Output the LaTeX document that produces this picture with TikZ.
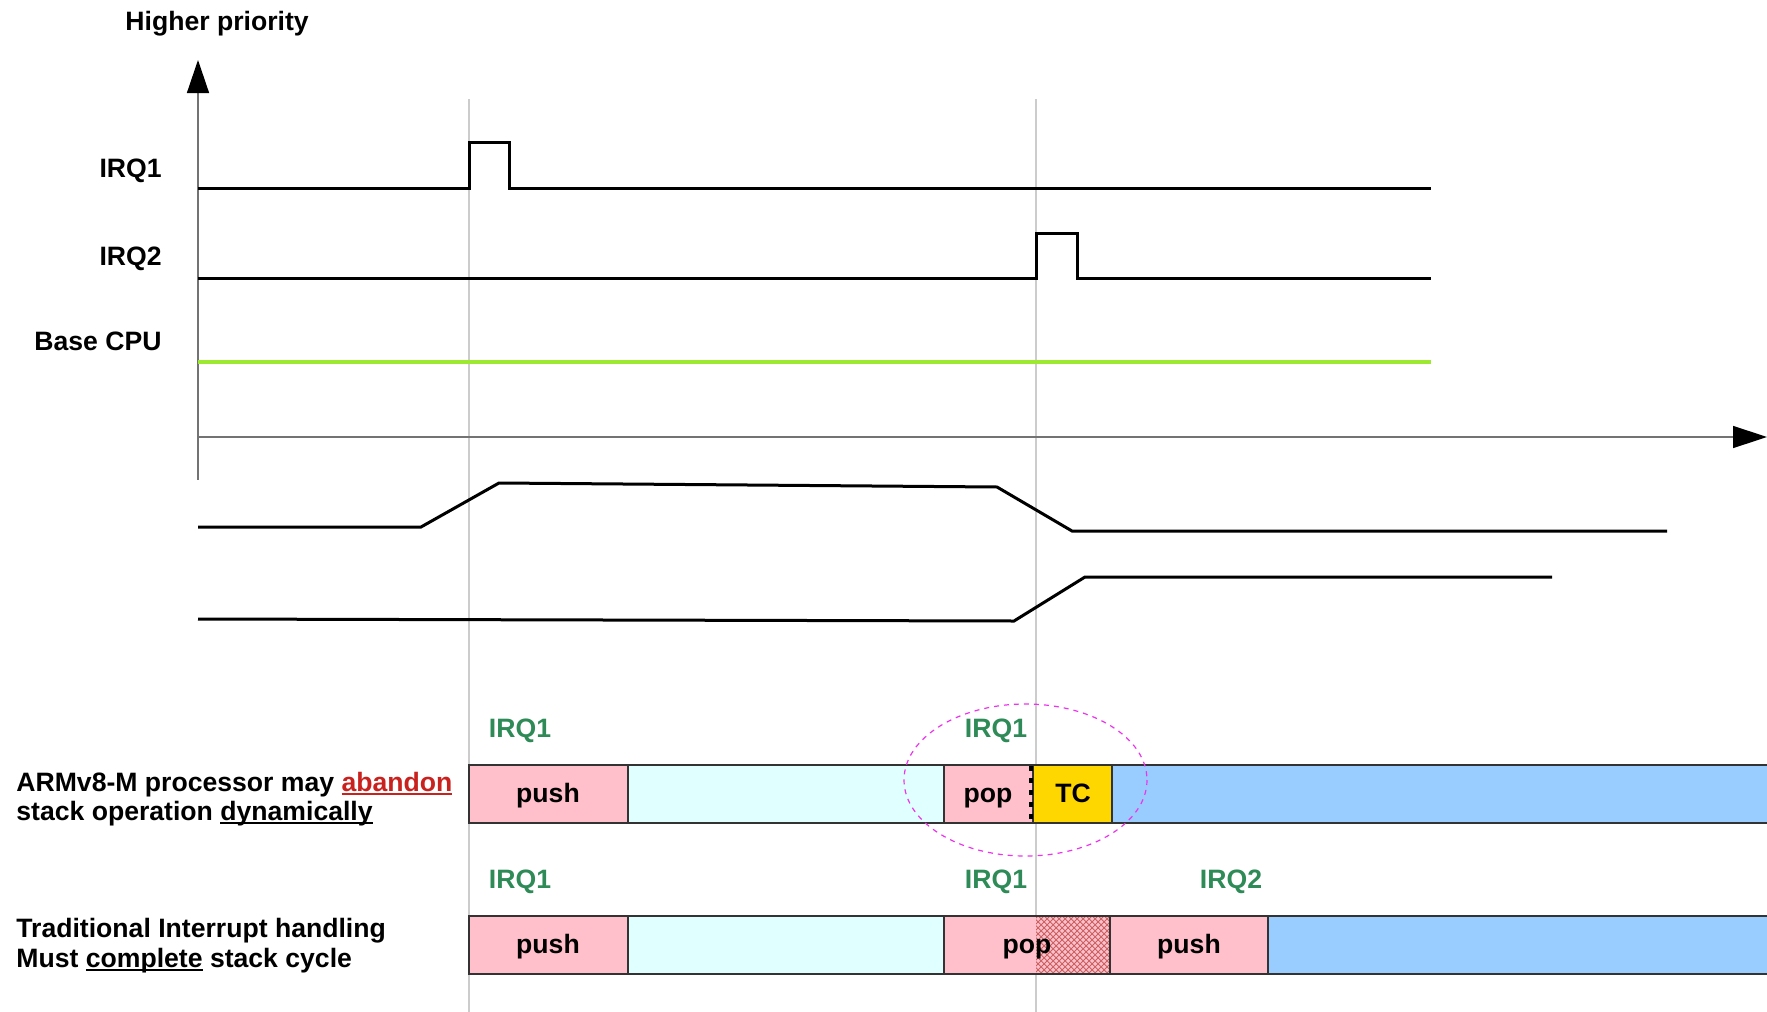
\documentclass[tikz,border=0pt]{standalone}
\usepackage{fontspec}
\setmainfont{Liberation Sans}
\usetikzlibrary{arrows.meta,patterns}

\definecolor{pushpink}{HTML}{FFC0CB}
\definecolor{idlecyan}{HTML}{E0FFFF}
\definecolor{runblue}{HTML}{99CCFF}
\definecolor{tcgold}{HTML}{FFD700}
\definecolor{irqgreen}{HTML}{2E8B57}
\definecolor{cpugreen}{HTML}{9DE830}
\definecolor{abandonred}{HTML}{C9211E}
\definecolor{ringmagenta}{HTML}{EE33EE}
\definecolor{hatchred}{HTML}{C86060}

% underline that sits just below the baseline
\newsavebox\ulinebox
\newcommand\lineunder[1]{\sbox\ulinebox{#1}\rlap{\rule[-1.9pt]{\wd\ulinebox}{0.9pt}}\usebox\ulinebox}

\tikzset{
  lbl/.style={font=\fontsize{13.3}{14.5}\selectfont\bfseries, inner sep=0pt},
  irqlbl/.style={lbl, text=irqgreen},
  signal/.style={line width=1.5pt, line join=miter},
  guide/.style={draw=black!20, line width=0.6pt},
  axis/.style={draw=black!55, line width=0.7pt},
  seg/.style={draw=black!80, line width=0.6pt},
}

\begin{document}
\begin{tikzpicture}[x=0.5pt,y=-0.5pt]
\useasboundingbox (0,0) rectangle (1767,1012);

% time markers
\draw[guide] (469,99) -- (469,1012);
\draw[guide] (1036,99) -- (1036,1012);

% axes
\draw[axis, -{Triangle[length=16.5pt,width=11pt,black]}] (198,480) -- (198,60);
\draw[axis, -{Triangle[length=17pt,width=11pt,black]}] (198,437) -- (1767,437);

\node[lbl, anchor=base west] (hp) at (125,30) {Higher priority};

% priority levels
\node[lbl, anchor=base east] (l1) at (162,177) {IRQ1};
\node[lbl, anchor=base east] (l2) at (162,265) {IRQ2};
\node[lbl, anchor=base east] (l3) at (162,350) {Base CPU};

\draw[signal] (198,188) -- (469,188) -- (469,142) -- (509,142) -- (509,188) -- (1431,188);
\draw[signal] (198,278) -- (1036,278) -- (1036,233) -- (1077,233) -- (1077,278) -- (1431,278);
\draw[line width=2pt, cpugreen] (198,362) -- (1431,362);

% stack activity traces
\draw[signal] (198,527) -- (421,527) -- (499,483) -- (997,487) -- (1072,531) -- (1667,531);
\draw[signal] (198,619) -- (1014,621) -- (1085,577) -- (1552,577);

% row 1: late-arrival with abandoned unstacking
\filldraw[seg, fill=pushpink] (469,765) rectangle (628,823);
\filldraw[seg, fill=idlecyan] (628,765) rectangle (944,823);
\filldraw[seg, fill=pushpink] (944,765) rectangle (1033,823);
\filldraw[seg, fill=tcgold] (1033,765) rectangle (1112,823);
\filldraw[seg, fill=runblue] (1112,765) rectangle (1780,823);
\draw[line width=2pt, dash pattern=on 2.6pt off 3.4pt] (1031,766) -- (1031,823);

\node[lbl, anchor=base] (p1) at (548,802) {push};
\node[lbl, anchor=base] (o1) at (988,802) {pop};
\node[lbl, anchor=base] (tc) at (1073,802) {TC};

\node[irqlbl, anchor=base] (g1) at (520,737) {IRQ1};
\node[irqlbl, anchor=base] (g2) at (996,737) {IRQ1};

\draw[ringmagenta, line width=0.6pt, dash pattern=on 2.5pt off 2.5pt]
  (1025.5,780) ellipse [x radius=121.5, y radius=76];

% row 2: full stacking cycle
\filldraw[seg, fill=pushpink] (469,916) rectangle (628,974);
\filldraw[seg, fill=idlecyan] (628,916) rectangle (944,974);
\filldraw[seg, fill=pushpink] (944,916) rectangle (1110,974);
\fill[pattern=crosshatch, pattern color=hatchred] (1036,917) rectangle (1110,973);
\draw[seg] (944,916) rectangle (1110,974);
\filldraw[seg, fill=pushpink] (1110,916) rectangle (1268,974);
\filldraw[seg, fill=runblue] (1268,916) rectangle (1780,974);

\node[lbl, anchor=base] (p2) at (548,953) {push};
\node[lbl, anchor=base] (o2) at (1027,953) {pop};
\node[lbl, anchor=base] (p3) at (1189,953) {push};

\node[irqlbl, anchor=base] (g3) at (520,888) {IRQ1};
\node[irqlbl, anchor=base] (g4) at (996,888) {IRQ1};
\node[irqlbl, anchor=base] (g5) at (1231,888) {IRQ2};

% row captions
\node[lbl, anchor=base west] (c1a) at (16,791) {ARMv8-M processor may \textcolor{abandonred}{\lineunder{abandon}}};
\node[lbl, anchor=base west] (c1b) at (16,820) {stack operation \lineunder{dynamically}};
\node[lbl, anchor=base west] (c2a) at (16,937) {Traditional Interrupt handling};
\node[lbl, anchor=base west] (c2b) at (16,967) {Must \lineunder{complete} stack cycle};
\end{tikzpicture}
\end{document}
